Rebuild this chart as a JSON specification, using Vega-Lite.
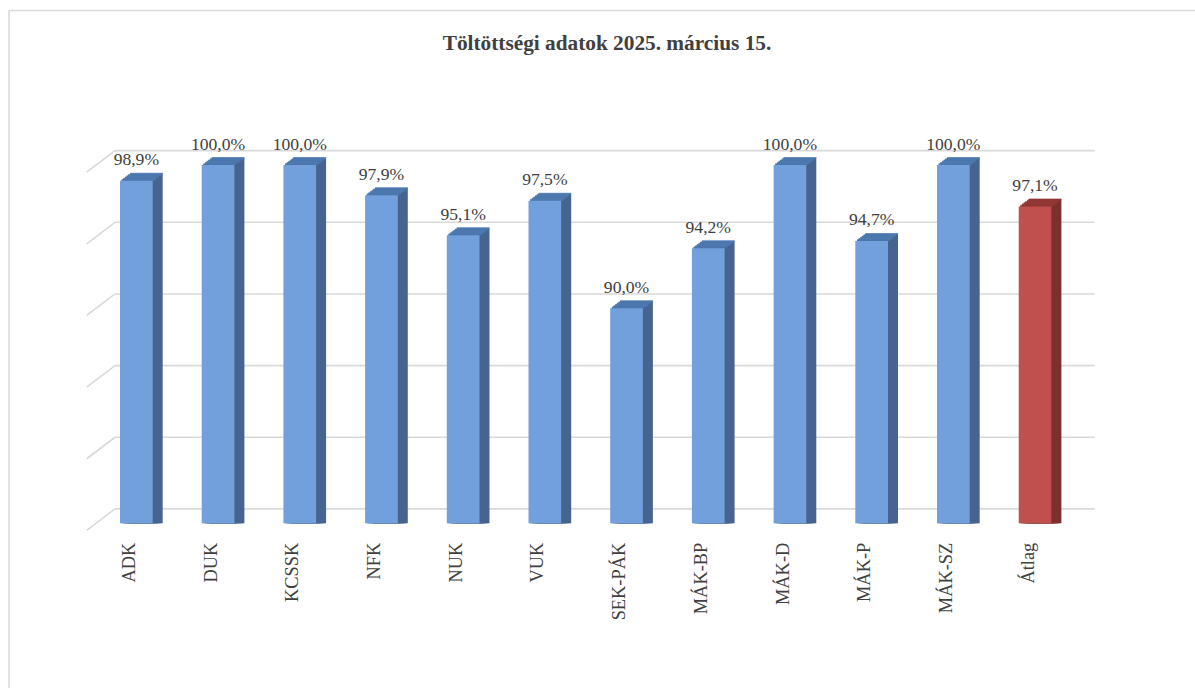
{
  "$schema": "https://vega.github.io/schema/vega-lite/v6.json",
  "autosize": {"type": "none"},
  "padding": {"left": 9, "top": 10.5, "right": -20, "bottom": -20},
  "width": 1206,
  "height": 697.5,
  "background": "white",
  "title": {
    "text": "Töltöttségi adatok 2025. március 15.",
    "anchor": "middle",
    "frame": "group",
    "orient": "top",
    "offset": 0,
    "dy": 60.8,
    "dx": -5,
    "baseline": "alphabetic",
    "font": "Liberation Serif",
    "fontSize": 21.3,
    "fontWeight": "bold",
    "color": "#404040"
  },
  "config": {
    "view": {"stroke": "#d9d9d9", "strokeWidth": 1.5},
    "locale": {"number": {"decimal": ",", "thousands": " ", "grouping": [3], "currency": ["", ""]}}
  },
  "datasets": {
    "bars": [
      {"cat": "ADK", "v": 0.989},
      {"cat": "DUK", "v": 1.0},
      {"cat": "KCSSK", "v": 1.0},
      {"cat": "NFK", "v": 0.979},
      {"cat": "NUK", "v": 0.951},
      {"cat": "VUK", "v": 0.975},
      {"cat": "SEK-PÁK", "v": 0.9},
      {"cat": "MÁK-BP", "v": 0.942},
      {"cat": "MÁK-D", "v": 1.0},
      {"cat": "MÁK-P", "v": 0.947},
      {"cat": "MÁK-SZ", "v": 1.0},
      {"cat": "Átlag", "v": 0.971}
    ],
    "grid": [
      {"g": 0.75}, {"g": 0.8}, {"g": 0.85}, {"g": 0.9}, {"g": 0.95}, {"g": 1.0}
    ]
  },
  "data": {"name": "bars"},
  "encoding": {
    "x": {
      "field": "cat",
      "type": "nominal",
      "sort": null,
      "axis": null,
      "scale": {
        "type": "band",
        "domain": ["ADK", "DUK", "KCSSK", "NFK", "NUK", "VUK", "SEK-PÁK", "MÁK-BP", "MÁK-D", "MÁK-P", "MÁK-SZ", "Átlag"],
        "range": [86.5, 1066.9],
        "paddingInner": 0.6,
        "paddingOuter": 0.3
      }
    },
    "y": {
      "field": "v",
      "type": "quantitative",
      "axis": null,
      "scale": {"domain": [0.62111, 1.10785], "nice": false, "zero": false}
    }
  },
  "layer": [
    {
      "data": {"name": "grid"},
      "mark": {"type": "rule", "color": "#d9d9d9", "strokeWidth": 1.6, "xOffset": -5, "x2Offset": 43.3, "yOffset": -14.4},
      "encoding": {
        "x": {"datum": "ADK", "bandPosition": 0},
        "x2": {"datum": "Átlag", "bandPosition": 1},
        "y": {"field": "g", "type": "quantitative"}
      }
    },
    {
      "data": {"name": "grid"},
      "mark": {"type": "rule", "color": "#d9d9d9", "strokeWidth": 1.6, "xOffset": -33.3, "x2Offset": -5, "yOffset": 7.1, "y2Offset": -14.4},
      "encoding": {
        "x": {"datum": "ADK", "bandPosition": 0},
        "x2": {"datum": "ADK", "bandPosition": 0},
        "y": {"field": "g", "type": "quantitative"},
        "y2": {"field": "g"}
      }
    },
    {"mark": {"type": "bar", "xOffset": 10, "yOffset": -7.5}, "encoding": {"y2": {"datum": 0.75}, "color": {"condition": {"test": "datum.cat === 'Átlag'", "value": "#7d302e"}, "value": "#46648f"}}},
    {"mark": {"type": "bar", "xOffset": 8.33, "yOffset": -6.25}, "encoding": {"y2": {"datum": 0.75}, "color": {"condition": {"test": "datum.cat === 'Átlag'", "value": "#7d302e"}, "value": "#46648f"}}},
    {"mark": {"type": "bar", "xOffset": 6.67, "yOffset": -5}, "encoding": {"y2": {"datum": 0.75}, "color": {"condition": {"test": "datum.cat === 'Átlag'", "value": "#7d302e"}, "value": "#46648f"}}},
    {"mark": {"type": "bar", "xOffset": 5, "yOffset": -3.75}, "encoding": {"y2": {"datum": 0.75}, "color": {"condition": {"test": "datum.cat === 'Átlag'", "value": "#7d302e"}, "value": "#46648f"}}},
    {"mark": {"type": "bar", "xOffset": 3.33, "yOffset": -2.5}, "encoding": {"y2": {"datum": 0.75}, "color": {"condition": {"test": "datum.cat === 'Átlag'", "value": "#7d302e"}, "value": "#46648f"}}},
    {"mark": {"type": "bar", "xOffset": 1.67, "yOffset": -1.25}, "encoding": {"y2": {"datum": 0.75}, "color": {"condition": {"test": "datum.cat === 'Átlag'", "value": "#7d302e"}, "value": "#46648f"}}},
    {"mark": {"type": "tick", "size": 32.7, "thickness": 2, "xOffset": 10, "yOffset": -7}, "encoding": {"color": {"condition": {"test": "datum.cat === 'Átlag'", "value": "#953937"}, "value": "#4f7cb5"}}},
    {"mark": {"type": "tick", "size": 32.7, "thickness": 2, "xOffset": 8.33, "yOffset": -5.75}, "encoding": {"color": {"condition": {"test": "datum.cat === 'Átlag'", "value": "#953937"}, "value": "#4f7cb5"}}},
    {"mark": {"type": "tick", "size": 32.7, "thickness": 2, "xOffset": 6.67, "yOffset": -4.5}, "encoding": {"color": {"condition": {"test": "datum.cat === 'Átlag'", "value": "#953937"}, "value": "#4f7cb5"}}},
    {"mark": {"type": "tick", "size": 32.7, "thickness": 2, "xOffset": 5, "yOffset": -3.25}, "encoding": {"color": {"condition": {"test": "datum.cat === 'Átlag'", "value": "#953937"}, "value": "#4f7cb5"}}},
    {"mark": {"type": "tick", "size": 32.7, "thickness": 2, "xOffset": 3.33, "yOffset": -2}, "encoding": {"color": {"condition": {"test": "datum.cat === 'Átlag'", "value": "#953937"}, "value": "#4f7cb5"}}},
    {"mark": {"type": "tick", "size": 32.7, "thickness": 2, "xOffset": 1.67, "yOffset": -0.75}, "encoding": {"color": {"condition": {"test": "datum.cat === 'Átlag'", "value": "#953937"}, "value": "#4f7cb5"}}},
    {
      "mark": {"type": "bar"},
      "encoding": {
        "y2": {"datum": 0.75},
        "color": {"condition": {"test": "datum.cat === 'Átlag'", "value": "#c0504d"}, "value": "#71a0dc"}
      }
    },
    {
      "mark": {"type": "text", "baseline": "alphabetic", "align": "center", "dy": -15.5, "font": "Liberation Serif", "fontSize": 17.6, "color": "#404040"},
      "encoding": {"text": {"field": "v", "type": "quantitative", "format": ".1%"}}
    },
    {
      "mark": {"type": "text", "angle": 270, "align": "right", "baseline": "alphabetic", "yOffset": 19.4, "xOffset": -1.4, "font": "Liberation Serif", "fontSize": 18.4, "color": "#404040"},
      "encoding": {
        "y": {"datum": 0.75},
        "text": {"field": "cat", "type": "nominal"}
      }
    }
  ]
}
